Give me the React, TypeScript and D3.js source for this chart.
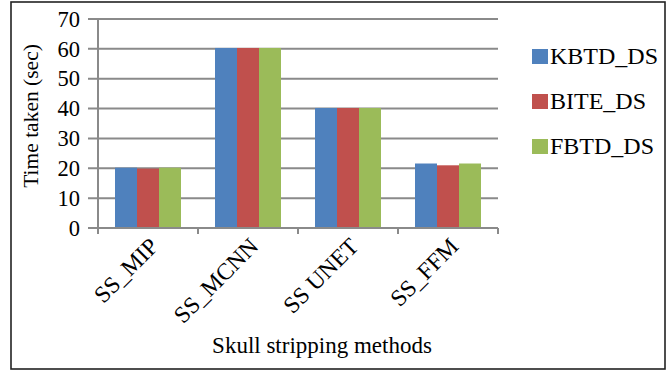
import React from "react";
import * as d3 from "d3";

const categories = ["SS_MIP", "SS_MCNN", "SS UNET", "SS_FFM"];
const seriesNames = ["KBTD_DS", "BITE_DS", "FBTD_DS"];
const kbtdValues = [20.2, 60.3, 40.2, 21.6];
const biteValues = [19.9, 60.3, 40.2, 21.0];
const fbtdValues = [20.2, 60.3, 40.2, 21.6];
const yTicks = [0, 10, 20, 30, 40, 50, 60, 70];
const colors = ["#4F81BD", "#C0504D", "#9BBB59"];

const W = 672;
const H = 372;
const FONT = "'Liberation Serif', 'Times New Roman', serif";

export default function App() {
  const series = [kbtdValues, biteValues, fbtdValues];
  const left = 98;
  const right = 498;
  const top = 19;
  const bottom = 228;
  const x0 = d3.scaleBand<string>().domain(categories).range([left, right]).padding(0);
  const x1 = d3
    .scaleBand<string>()
    .domain(seriesNames)
    .range([17, x0.bandwidth() - 17])
    .padding(0);
  const y = d3.scaleLinear().domain([0, 70]).range([bottom, top]);
  const grid = "#8a8a8a";

  return (
    <svg
      width={W}
      height={H}
      style={{ position: "absolute", left: 0, top: 0, display: "block", background: "#fff" }}
      fontFamily={FONT}
    >
      <rect x={0} y={0} width={W} height={H} fill="#fff" />
      <rect x={11} y={2} width={654} height={367} fill="none" stroke="#222" strokeWidth={1.6} />

      {/* gridlines */}
      {yTicks.map((t) => (
        <line key={"g" + t} x1={left - 10} x2={right} y1={y(t)} y2={y(t)} stroke={grid} strokeWidth={2} />
      ))}
      {/* y axis */}
      <line x1={left} x2={left} y1={top} y2={bottom} stroke={grid} strokeWidth={2} />
      {yTicks.map((t) => (
        <text key={"yl" + t} x={80} y={y(t)} dy="0.34em" textAnchor="end" fontSize={22.5} fill="#000">
          {t}
        </text>
      ))}

      {/* bars */}
      {categories.map((c, ci) =>
        series.map((vals, si) => (
          <rect
            key={c + si}
            x={(x0(c) as number) + (x1(seriesNames[si]) as number)}
            y={y(vals[ci])}
            width={x1.bandwidth()}
            height={y(0) - y(vals[ci])}
            fill={colors[si]}
          />
        ))
      )}

      {/* x axis */}
      <line x1={left} x2={right} y1={bottom} y2={bottom} stroke={grid} strokeWidth={2} />
      {[...categories.map((c) => x0(c) as number), right].map((xx, i) => (
        <line key={"xt" + i} x1={xx} x2={xx} y1={bottom} y2={bottom + 6} stroke={grid} strokeWidth={2} />
      ))}
      {categories.map((c) => {
        const cx = (x0(c) as number) + x0.bandwidth() / 2;
        return (
          <text
            key={"xl" + c}
            transform={`translate(${cx},${236}) rotate(-45)`}
            textAnchor="end"
            dy="0.71em"
            fontSize={23.5}
            fill="#000"
          >
            {c}
          </text>
        );
      })}

      {/* axis titles */}
      <text x={322} y={353} textAnchor="middle" fontSize={23} fill="#000">
        Skull stripping methods
      </text>
      <text transform={`translate(38,${116}) rotate(-90)`} textAnchor="middle" fontSize={21.5} fill="#000">
        Time taken (sec)
      </text>

      {/* legend */}
      {seriesNames.map((s, i) => (
        <g key={"lg" + s}>
          <rect x={532} y={49 + i * 45} width={16} height={15} fill={colors[i]} />
          <text x={550} y={64 + i * 45} fontSize={24} fill="#000">
            {s}
          </text>
        </g>
      ))}
    </svg>
  );
}
